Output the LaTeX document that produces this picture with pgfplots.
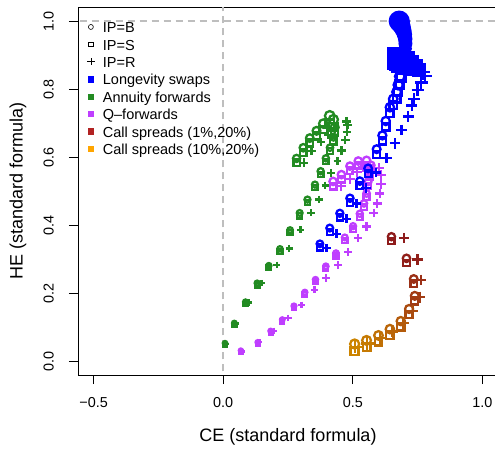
\documentclass[border=0pt]{standalone}
\usepackage{pgfplots}
\pgfplotsset{compat=1.18}
\usepackage{pgfplotstable}
\usepackage{fontspec}
\setmainfont{Liberation Sans}
\usetikzlibrary{calc}

\definecolor{lsblue}{HTML}{0000FF}
\definecolor{afgreen}{HTML}{228B22}
\definecolor{qfpurple}{HTML}{BF3EFF}
\definecolor{csred}{HTML}{B22222}
\definecolor{csorange}{HTML}{FFA500}
\definecolor{refgray}{HTML}{BEBEBE}

% annuity forwards: circle/square positions and plus positions
\pgfplotstableread{
x y r
0.007 0.051 2.2
0.043 0.110 2.3
0.086 0.172 2.4
0.131 0.227 2.5
0.176 0.278 2.6
0.219 0.327 2.7
0.258 0.382 2.8
0.295 0.432 2.9
0.325 0.471 3.0
0.354 0.515 3.0
0.376 0.554 3.1
0.396 0.592 3.1
0.412 0.623 3.2
0.425 0.653 3.5
0.430 0.680 4.0
0.425 0.700 4.6
0.411 0.710 4.8
0.386 0.690 4.2
0.360 0.670 3.9
0.334 0.649 3.8
0.309 0.621 3.7
0.283 0.590 3.6
}\greenOS
\pgfplotstableread{
x y r
0.012 0.052 2.0
0.050 0.111 2.1
0.099 0.173 2.2
0.148 0.230 2.3
0.207 0.283 2.4
0.254 0.332 2.5
0.298 0.387 2.5
0.339 0.437 2.6
0.369 0.476 2.7
0.394 0.517 2.7
0.417 0.554 2.8
0.441 0.589 2.8
0.456 0.620 2.9
0.471 0.651 3.0
0.478 0.675 3.1
0.480 0.695 3.2
0.476 0.705 3.2
0.431 0.685 3.0
0.405 0.666 3.0
0.377 0.645 3.0
0.341 0.619 3.0
0.311 0.584 3.0
}\greenP

% q-forwards
\pgfplotstableread{
x y r
0.068 0.030 2.0
0.133 0.054 2.1
0.183 0.087 2.2
0.228 0.120 2.3
0.273 0.160 2.4
0.315 0.200 2.5
0.356 0.237 2.6
0.396 0.276 2.7
0.435 0.314 2.8
0.469 0.360 2.9
0.501 0.393 3.0
0.527 0.429 3.1
0.543 0.459 3.2
0.553 0.488 3.3
0.559 0.522 3.4
0.565 0.550 3.5
0.570 0.570 3.6
0.553 0.584 3.7
0.521 0.582 3.7
0.489 0.567 3.7
0.456 0.542 3.7
0.424 0.522 3.7
}\purpleOS
\pgfplotstableread{
x y r
0.075 0.029 2.0
0.140 0.056 2.1
0.195 0.090 2.2
0.251 0.128 2.3
0.302 0.166 2.4
0.352 0.210 2.5
0.396 0.245 2.6
0.444 0.283 2.7
0.482 0.322 2.8
0.521 0.362 2.9
0.553 0.396 3.0
0.581 0.436 3.1
0.594 0.464 3.2
0.604 0.493 3.3
0.608 0.522 3.4
0.610 0.548 3.5
0.600 0.568 3.6
0.565 0.578 3.7
0.540 0.572 3.7
0.515 0.556 3.7
0.488 0.537 3.7
0.455 0.515 3.7
}\purpleP

% call spreads (1%,20%) to (10%,20%), t = colour position
\pgfplotstableread{
x y r t
0.649 0.360 3.6 0.00
0.707 0.296 3.7 0.05
0.735 0.235 3.8 0.20
0.739 0.185 3.9 0.30
0.717 0.146 4.0 0.45
0.685 0.110 4.1 0.60
0.643 0.086 4.2 0.70
0.599 0.067 4.3 0.80
0.553 0.052 4.4 0.90
0.507 0.041 4.5 1.00
}\callOS
\pgfplotstableread{
x y r t
0.697 0.363 3.6 0.00
0.749 0.299 3.7 0.05
0.762 0.239 3.8 0.20
0.757 0.189 3.9 0.30
0.731 0.149 4.0 0.45
0.695 0.112 4.1 0.60
0.650 0.088 4.2 0.70
0.604 0.068 4.3 0.80
0.556 0.053 4.4 0.90
0.509 0.042 4.5 1.00
}\callP

% longevity swaps
\pgfplotstableread{
x y r
0.373 0.340 3.3
0.411 0.386 3.4
0.450 0.429 3.5
0.489 0.473 3.6
0.527 0.523 3.7
0.559 0.560 3.8
0.592 0.616 3.9
0.614 0.656 4.0
0.627 0.698 4.1
0.643 0.738 4.2
0.656 0.762 4.3
0.669 0.782 4.4
0.675 0.802 4.6
0.681 0.826 4.8
0.686 0.848 5.1
}\blueOS
\pgfplotstableread{
x y r
0.690 0.868 5.0
0.695 0.886 5.2
0.699 0.903 5.4
0.702 0.919 5.6
0.703 0.934 5.8
0.702 0.948 6.1
0.699 0.961 6.5
0.695 0.972 7.0
0.690 0.982 7.6
0.685 0.990 8.2
0.681 0.996 8.8
0.679 1.000 9.4
}\blueC
\pgfplotstableread{
x y r
0.688 0.862 6.0
0.684 0.874 9.0
0.681 0.884 11.0
0.677 0.891 11.6
0.700 0.882 10.0
0.720 0.874 9.0
0.740 0.864 8.0
0.755 0.856 7.0
}\blueS
\pgfplotstableread{
x y r
0.399 0.333 3.0
0.437 0.375 3.1
0.476 0.419 3.2
0.514 0.464 3.3
0.552 0.510 3.4
0.590 0.555 3.5
0.630 0.597 3.6
0.662 0.641 3.7
0.688 0.680 3.8
0.714 0.720 3.9
0.727 0.752 4.0
0.735 0.772 4.1
0.750 0.798 4.3
0.764 0.820 4.5
0.778 0.838 4.8
0.770 0.850 5.2
}\blueP

\newcommand{\ls}{\rule[-4pt]{0pt}{16pt}}
% circle sits a little above the square, more so for bigger marks
\newcommand{\up}{\thisrow{y}+0.0005*\thisrow{r}*\thisrow{r}}
\newcommand{\dn}{\thisrow{y}-0.0005*\thisrow{r}*\thisrow{r}}

\pgfplotsset{
  % colour first (it resets the pre-marker code), then size per point
  fixed/.style={point meta=\thisrow{r}/100,
    scatter/use mapped color={draw=#1,fill=#1}},
  pts/.style={only marks, scatter, forget plot, line width=2.3pt,
    mark options={line width=2.3pt},
    visualization depends on={#1*\thisrow{r} \as \msz},
    scatter/@pre marker code/.append style={/tikz/mark size=\msz}},
  legimg/.style={legend image code/.code={%
    \path[draw=none, fill=none] (-6pt,-4pt) rectangle (6pt,4pt);
    \draw[##1] plot coordinates {(0pt,0.5pt)};}},
}

\begin{document}
\begin{tikzpicture}
\begin{axis}[
  name=ax,
  scale only axis,
  width=420pt, height=367.5pt,
  xmin=-0.56, xmax=1.06,
  ymin=-0.04, ymax=1.04,
  xtick={-0.5,0,0.5,1},
  xticklabels={−0.5,0.0,0.5,1.0},
  ytick={0,0.2,0.4,0.6,0.8,1},
  yticklabels={0.0,0.2,0.4,0.6,0.8,1.0},
  tick align=outside,
  xtick pos=left, ytick pos=left,
  major tick length=9pt,
  tick style={black, line width=0.8pt},
  axis line style={line width=0.8pt},
  ticklabel style={font=\fontsize{14.4}{17}\selectfont},
  xticklabel style={inner sep=0pt, anchor=north},
  xticklabel shift=13.5pt,
  yticklabel style={rotate=90, anchor=south, inner sep=0pt},
  yticklabel shift=15pt,
  label style={font=\fontsize{18}{21}\selectfont},
  xlabel={CE (standard formula)},
  ylabel={HE (standard formula)},
  xlabel style={at={(axis description cs:0.5,-0.1687)}, anchor=center},
  ylabel style={at={(axis description cs:-0.1429,0.5)}, anchor=center, rotate=0},
  colormap={cs}{rgb255=(178,34,34) rgb255=(255,165,0)},
  point meta min=0, point meta max=1,
  legend style={at={(rel axis cs:0,1)}, anchor=north west, xshift=6.7pt, yshift=-12pt,
    draw=none, fill=none, inner sep=0pt, row sep=1.9pt, column sep=5pt,
    font=\fontsize{14.5}{17}\selectfont,
    nodes={inner sep=1pt}},
  legend cell align=left,
]
\addlegendimage{only marks, mark=o, mark size=2.5pt, black, mark options={line width=0.6pt}, legimg}
\addlegendentry{\ls IP=B}
\addlegendimage{only marks, mark=square, mark size=2.4pt, black, mark options={line width=0.6pt}, legimg}
\addlegendentry{\ls IP=S}
\addlegendimage{only marks, mark=+, mark size=3.7pt, black, mark options={line width=0.6pt}, legimg}
\addlegendentry{\ls IP=R}
\addlegendimage{only marks, mark=square*, mark size=2.7pt, lsblue, legimg}
\addlegendentry{\ls Longevity swaps}
\addlegendimage{only marks, mark=square*, mark size=2.7pt, afgreen, legimg}
\addlegendentry{\ls Annuity forwards}
\addlegendimage{only marks, mark=square*, mark size=2.7pt, qfpurple, legimg}
\addlegendentry{\ls Q–forwards}
\addlegendimage{only marks, mark=square*, mark size=2.7pt, csred, legimg}
\addlegendentry{\ls Call spreads (1\%,20\%)}
\addlegendimage{only marks, mark=square*, mark size=2.7pt, csorange, legimg}
\addlegendentry{\ls Call spreads (10\%,20\%)}

% reference lines
\addplot[forget plot, refgray, line width=1.5pt, dash pattern=on 7pt off 5pt] coordinates {(-0.6,1) (1.1,1)};
\addplot[forget plot, refgray, line width=1.5pt, dash pattern=on 7pt off 5pt] coordinates {(0,-0.1) (0,1.1)};

% annuity forwards
\addplot[fixed=afgreen, pts=1, mark=o] table[x=x, y expr=\up] {\greenOS};
\addplot[fixed=afgreen, pts=0.886, mark=square] table[x=x, y expr=\dn] {\greenOS};
\addplot[fixed=afgreen, pts=1.414, mark=+] table[x=x, y=y] {\greenP};

% q-forwards
\addplot[fixed=qfpurple, pts=1, mark=o] table[x=x, y expr=\up] {\purpleOS};
\addplot[fixed=qfpurple, pts=0.886, mark=square] table[x=x, y expr=\dn] {\purpleOS};
\addplot[fixed=qfpurple, pts=1.414, mark=+] table[x=x, y=y] {\purpleP};

% call spreads
\addplot[pts=1, mark=o, point meta=explicit] table[x=x, y expr=\up, meta=t] {\callOS};
\addplot[pts=0.886, mark=square, point meta=explicit] table[x=x, y expr=\dn, meta=t] {\callOS};
\addplot[pts=1.414, mark=+, point meta=explicit] table[x=x, y=y, meta=t] {\callP};

% longevity swaps
\addplot[fixed=lsblue, pts=1, mark=o] table[x=x, y expr=\up] {\blueOS};
\addplot[fixed=lsblue, pts=0.886, mark=square] table[x=x, y expr=\dn] {\blueOS};
\addplot[fixed=lsblue, pts=1, mark=*] table[x=x, y=y] {\blueC};
\addplot[fixed=lsblue, pts=0.886, mark=square*] table[x=x, y=y] {\blueS};
\addplot[fixed=lsblue, pts=1.414, mark=+] table[x=x, y=y] {\blueP};
\end{axis}
\pgfresetboundingbox
\path[use as bounding box] ($(ax.south west)+(-78pt,-73pt)$) rectangle ($(ax.south west)+(417pt,375pt)$);
\end{tikzpicture}
\end{document}
